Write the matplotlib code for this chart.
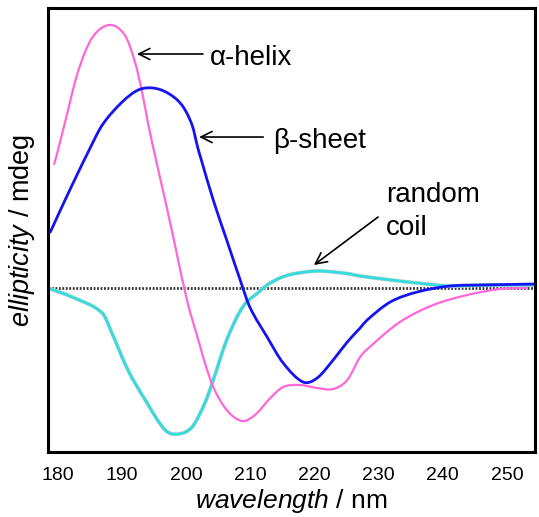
import numpy as np
import matplotlib
matplotlib.use("Agg")
import matplotlib.pyplot as plt
from matplotlib.path import Path
from matplotlib.patches import PathPatch

plt.rcParams['font.family'] = ['Liberation Sans', 'DejaVu Sans']
plt.rcParams['mathtext.fontset'] = 'custom'
plt.rcParams['mathtext.rm'] = 'Liberation Sans'
plt.rcParams['mathtext.it'] = 'Liberation Sans:italic'

# CD spectra (wavelength in nm, ellipticity in arbitrary mdeg units)
helix_wl = [179.4, 179.8, 181.1, 183.1, 185.3, 188.0, 190.4, 192.0, 193.1, 194.0,
            195.1, 196.7, 198.4, 200.1, 202.1, 202.9, 204.2, 206.3, 208.7, 210.7,
            213.1, 215.1, 217.7, 220.4, 222.9, 225.1, 227.1, 228.6, 233.3, 238.5,
            243.8, 248.9, 253.1]
helix_el = [12.4, 13.3, 16.6, 21.6, 25.0, 26.3, 25.3, 22.6, 19.6, 16.6,
            13.3, 8.8, 3.8, -1.2, -5.7, -7.5, -9.9, -12.2, -13.3, -12.7,
            -11.0, -9.9, -9.7, -10.0, -10.1, -9.2, -6.9, -5.9, -3.4, -1.7,
            -0.7, -0.1, 0.0]

sheet_wl = [178.8, 181.1, 183.1, 184.7, 186.9, 190.0, 192.5, 194.8, 197.1, 199.3,
            200.9, 201.8, 202.3, 204.2, 206.3, 208.4, 209.9, 212.6, 215.1, 218.2,
            220.4, 222.9, 225.1, 227.1, 228.2, 231.8, 236.0, 241.1, 246.3, 254.1]
sheet_el = [5.6, 8.8, 11.5, 13.6, 16.3, 18.6, 19.8, 20.0, 19.5, 18.3,
            16.3, 14.0, 12.9, 8.8, 4.8, 0.8, -1.9, -4.9, -7.5, -9.4,
            -9.0, -7.2, -5.4, -4.0, -3.2, -1.4, -0.4, 0.2, 0.3, 0.4]

coil_wl = [178.4, 182.2, 186.9, 188.4, 190.9, 193.6, 196.7, 198.7, 200.9, 202.9,
           204.2, 206.3, 208.8, 211.5, 212.6, 214.6, 216.6, 220.4, 224.4, 225.5,
           227.1, 230.7, 236.0, 241.1, 246.3, 254.1]
coil_el = [0.0, -0.9, -2.5, -4.5, -8.2, -11.2, -14.2, -14.6, -13.9, -11.5,
           -9.2, -5.2, -1.9, -0.3, 0.3, 1.0, 1.4, 1.7, 1.5, 1.4,
           1.2, 0.9, 0.5, 0.2, 0.3, 0.3]

xticks = [180, 190, 200, 210, 220, 230, 240, 250]


def smooth_path(xs, ys):
    # cubic Hermite curve through the points, slope at each point taken
    # from its two neighbours; written as Bezier segments
    x = np.asarray(xs, float)
    y = np.asarray(ys, float)
    h = np.diff(x)
    m = np.empty_like(y)
    m[0] = (y[1] - y[0]) / h[0]
    m[-1] = (y[-1] - y[-2]) / h[-1]
    m[1:-1] = (y[2:] - y[:-2]) / (x[2:] - x[:-2])
    verts = [(x[0], y[0])]
    codes = [Path.MOVETO]
    for i in range(len(x) - 1):
        verts += [(x[i] + h[i] / 3, y[i] + m[i] * h[i] / 3),
                  (x[i + 1] - h[i] / 3, y[i + 1] - m[i + 1] * h[i] / 3),
                  (x[i + 1], y[i + 1])]
        codes += [Path.CURVE4] * 3
    return Path(verts, codes)


def draw_curve(ax, xs, ys, **kw):
    ax.add_patch(PathPatch(smooth_path(xs, ys), fill=False,
                           capstyle='round', joinstyle='round', **kw))


fig = plt.figure(figsize=(5.39, 5.17), dpi=100)
ax = fig.add_axes([0.0891, 0.1257, 0.9035, 0.8588])

ax.axhline(0, color='#333333', lw=2.0, ls=(0, (0.65, 0.6)), zorder=1)
draw_curve(ax, coil_wl, coil_el, edgecolor='#CFCFCF', lw=2.8, zorder=2)
draw_curve(ax, coil_wl, coil_el, edgecolor='#33DDDD', lw=2.0, zorder=2)
draw_curve(ax, helix_wl, helix_el, edgecolor='#FF66D9', lw=1.6, zorder=3)
draw_curve(ax, sheet_wl, sheet_el, edgecolor='#1414F0', lw=2.0, zorder=4)

ax.set_xlim(178.44, 254.37)
ax.set_ylim(-16.4, 28.0)
ax.set_xticks(xticks)
ax.set_yticks([])
ax.tick_params(axis='x', length=0, pad=11, labelsize=14)
for s in ax.spines.values():
    s.set_linewidth(2.2)

ax.set_xlabel(r'$\mathit{wavelength}$ / nm', fontsize=19, labelpad=2)
ax.set_ylabel(r'$\mathit{ellipticity}$ / mdeg', fontsize=19.5, labelpad=8)

arrow = dict(arrowstyle='->', lw=1.2, color='black', shrinkA=0, shrinkB=0,
             mutation_scale=20)
ax.annotate('', xy=(192.3, 23.4), xytext=(202.6, 23.4), arrowprops=arrow)
ax.text(203.7, 22.3, 'α-helix', fontsize=20, va='baseline')
ax.annotate('', xy=(202.0, 15.1), xytext=(212.0, 15.1), arrowprops=arrow)
ax.text(213.5, 14.0, 'β-sheet', fontsize=20, va='baseline')
ax.annotate('', xy=(219.9, 2.3), xytext=(229.9, 7.1), arrowprops=arrow)
ax.text(231.1, 8.6, 'random', fontsize=20, va='baseline')
ax.text(231.1, 5.3, 'coil', fontsize=20, va='baseline')

fig.savefig('out.png', dpi=100)
